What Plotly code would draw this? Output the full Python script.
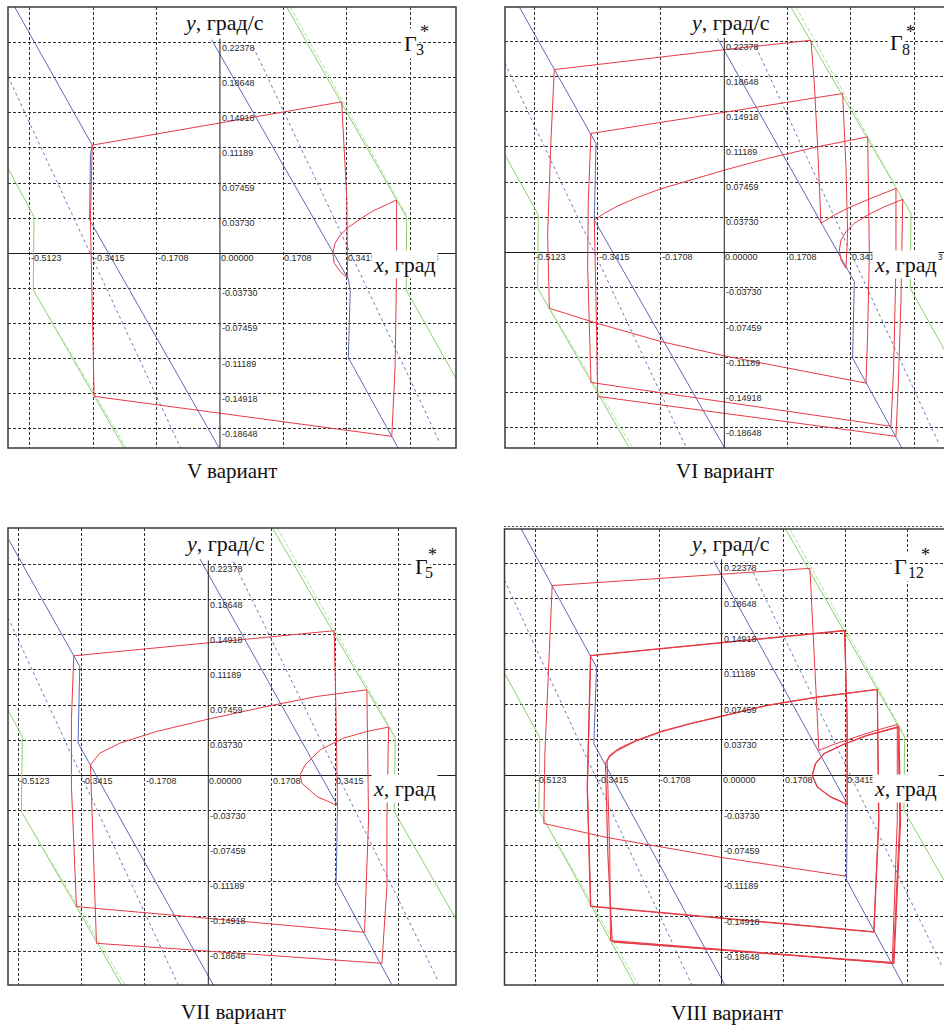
import plotly.graph_objects as go

W, H = 944, 1028

# ---------------------------------------------------------------- grid / ticks
X_GRID = [-0.5123, -0.3415, -0.1708, 0.1708, 0.3415, 0.5123]
X_LABEL_VALS = [-0.5123, -0.3415, -0.1708, 0.0, 0.1708, 0.3415, 0.5123]
X_LABEL_TEXT = ["-0.5123", "-0.3415", "-0.1708", "0.00000", "0.1708", "0.3415", "0.5123"]
Y_GRID = [0.22378, 0.18648, 0.14918, 0.11189, 0.07459, 0.03730,
          -0.03730, -0.07459, -0.11189, -0.14918, -0.18648]
Y_LABEL_TEXT = ["0.22378", "0.18648", "0.14918", "0.11189", "0.07459", "0.03730",
                "-0.03730", "-0.07459", "-0.11189", "-0.14918", "-0.18648"]
AXIS_TOP = 0.228

# ---------------------------------------------------------------- variant V
V_TRAJ_X = [0.344, 0.324, 0.308, 0.304, 0.310, 0.324, 0.346, 0.378, 0.414, 0.450, 0.476,
            0.476, 0.472, 0.463, -0.339, -0.349, -0.344, 0.328, 0.342, 0.344]
V_TRAJ_Y = [-0.0265, -0.0194, -0.0106, 0.0, 0.0106, 0.0194, 0.0276, 0.0364, 0.0453, 0.052, 0.0566,
            -0.014, -0.120, -0.1945, -0.152, 0.0354, 0.1149, 0.1609, 0.0566, -0.0265]
V_SW_L_X = [-0.553, -0.344, -0.349, -0.351, -0.002]
V_SW_L_Y = [0.2617, 0.1149, 0.105, 0.0354, -0.2069]
V_SW_R_X = [-0.0225, 0.346, 0.351, 0.346, 0.480]
V_SW_R_Y = [0.227, -0.0276, -0.040, -0.111, -0.2069]
V_AUX_L_X = [-0.571, -0.106]
V_AUX_L_Y = [0.188, -0.2069]
V_AUX_R_X = [0.0899, 0.593]
V_AUX_R_Y = [0.2192, -0.2016]
V_BND_L_X = [-0.571, -0.503, -0.501, -0.503, -0.258]
V_BND_L_Y = [0.0903, 0.0407, 0.039, -0.039, -0.2069]
V_BND_R_X = [0.180, 0.503, 0.502, 0.636]
V_BND_R_Y = [0.2617, 0.038, -0.039, -0.133]
V_BDASH_UR_X = [0.189, 0.503]
V_BDASH_UR_Y = [0.2617, 0.040]
V_BDASH_LL_X = [-0.503, -0.252]
V_BDASH_LL_Y = [-0.039, -0.2069]

# ---------------------------------------------------------------- variant VI
VI_TRAJ_X = [-0.3506, -0.3236, -0.2877, -0.2337, -0.1708, -0.0899, 0.0, 0.1169, 0.2517, 0.3866,
             0.3884, 0.3911, 0.3866, 0.3821,
             0.0, -0.1708, -0.3506, -0.472,
             -0.4765, -0.4675, -0.4585,
             0.0, 0.2337,
             0.2427, 0.2517, 0.2607,
             0.2967, 0.3416, 0.3956, 0.463,
             0.463, 0.4567, 0.4495,
             0.0, -0.3596,
             -0.3686, -0.3668, -0.3596,
             0.0, 0.3191,
             0.3281, 0.3326, 0.3281,
             0.3147, 0.3102, 0.3147, 0.3281, 0.3506, 0.3866, 0.4315, 0.481,
             0.4765, 0.4693, 0.463,
             0.0, -0.3416,
             -0.3461, -0.3506]
VI_TRAJ_Y = [0.0343, 0.0414, 0.0492, 0.0583, 0.0675, 0.0767, 0.0873, 0.0997, 0.1121, 0.1227,
             0.0555, -0.0011, -0.0859, -0.139,
             -0.110, -0.0948, -0.0746, -0.0594,
             0.0202, 0.1192, 0.1941,
             0.2153, 0.2252,
             0.1793, 0.1121, 0.0308,
             0.0396, 0.0484, 0.0573, 0.0679,
             -0.0152, -0.1213, -0.1849,
             -0.1591, -0.1383,
             -0.0152, 0.0555, 0.1262,
             0.1489, 0.1687,
             0.0909, 0.0202, -0.017,
             -0.0081, 0.0025, 0.0131, 0.0219, 0.0308, 0.0396, 0.0484, 0.0562,
             -0.0506, -0.139, -0.1955,
             -0.1711, -0.1531,
             -0.0506, 0.0343]
VI_SW_L_X = [-0.5529, -0.3596, -0.3461, -0.3506, 0.001]
VI_SW_L_Y = [0.2606, 0.1262, 0.1156, 0.0343, -0.2079]
VI_SW_R_X = [-0.018, 0.3461, 0.3506, 0.3461, 0.479]
VI_SW_R_Y = [0.227, -0.0293, -0.0311, -0.1124, -0.2079]
VI_AUX_L_X = [-0.5915, -0.102]
VI_AUX_L_Y = [0.201, -0.2079]
VI_AUX_R_X = [0.0854, 0.5799]
VI_AUX_R_Y = [0.2182, -0.2044]
VI_BND_L_X = [-0.5915, -0.5016, -0.5034, -0.2562]
VI_BND_L_Y = [0.1034, 0.0396, -0.0382, -0.2079]
VI_BND_R_X = [0.1798, 0.5034, 0.5016, 0.5925]
VI_BND_R_Y = [0.2606, 0.0414, -0.0382, -0.103]
VI_BDASH_UR_X = [0.1933, 0.503]
VI_BDASH_UR_Y = [0.2606, 0.041]
VI_BDASH_LL_X = [-0.5034, -0.247]
VI_BDASH_LL_Y = [-0.0382, -0.2079]

# ---------------------------------------------------------------- variant VII
VII_TRAJ_X = [0.3479, 0.2922, 0.2517, 0.2472, 0.2607, 0.3012, 0.3641, 0.427, 0.4855,
              0.481, 0.481, 0.4675,
              -0.3012,
              -0.3084, -0.3173,
              -0.2922, -0.2382, -0.1393, 0.0, 0.1573, 0.2922, 0.427,
              0.4315, 0.4207,
              -0.3551,
              -0.3686, -0.3686, -0.3623,
              0.3389,
              0.3443, 0.3479]
VII_TRAJ_Y = [-0.0318, -0.0223, -0.0081, 0.0007, 0.0113, 0.0272, 0.0396, 0.0467, 0.0513,
              -0.047, -0.1177, -0.1991,
              -0.1779,
              -0.0824, 0.0113,
              0.0237, 0.0343, 0.0467, 0.0598, 0.0732, 0.0838, 0.0909,
              -0.047, -0.1662,
              -0.139,
              -0.0117, 0.0591, 0.1269,
              0.1535,
              0.0591, -0.0318]
VII_SW_L_X = [-0.5376, -0.3461, -0.3506, 0.0135]
VII_SW_L_Y = [0.25, 0.1156, 0.0343, -0.2221]
VII_SW_R_X = [-0.0225, 0.3479, 0.3443, 0.4945]
VII_SW_R_Y = [0.2295, -0.0318, -0.1124, -0.2221]
VII_AUX_L_X = [-0.5394, -0.0809]
VII_AUX_L_Y = [0.1672, -0.2221]
VII_AUX_R_X = [0.0674, 0.6203]
VII_AUX_R_Y = [0.227, -0.2189]
VII_BND_L_X = [-0.5394, -0.5007, -0.5034, -0.2337]
VII_BND_L_Y = [0.0692, 0.0414, -0.0382, -0.2221]
VII_BND_R_X = [0.1727, 0.5034, 0.5007, 0.667]
VII_BND_R_Y = [0.2624, 0.0396, -0.0382, -0.1522]
VII_BDASH_UR_X = [0.186, 0.5034]
VII_BDASH_UR_Y = [0.2624, 0.041]
VII_BDASH_LL_X = [-0.5034, -0.2247]
VII_BDASH_LL_Y = [-0.0382, -0.2221]

# ---------------------------------------------------------------- variant VIII
# transient from the initial point
VIII_TR_X = [0.3411, 0.0, -0.3145, -0.4888, -0.486, -0.4658, 0.243, 0.254, 0.2678,
             0.309, 0.3549, 0.4191, 0.4833, 0.4833, 0.4695, -0.3008]
VIII_TR_Y = [-0.1064, -0.0867, -0.0657, -0.0509, 0.0228, 0.2002, 0.2184, 0.1282, 0.0263,
             0.0327, 0.0386, 0.0467, 0.0537, -0.0474, -0.1984, -0.1756]
# settled two-turn cycle, two consecutive passes
VIII_CY_X = [-0.3008, -0.3127, -0.3191, -0.31, -0.287, -0.2412, -0.1678, -0.0853, 0.0, 0.1256, 0.2632, 0.4282,
             0.4328, 0.4191,
             -0.3604,
             -0.3696, -0.3604,
             0.3384,
             0.3457, 0.3457,
             0.2999, 0.2632, 0.2494, 0.2586, 0.2815, 0.3365, 0.4007, 0.4878,
             0.4924, 0.4741,
             -0.3054]
VIII_CY_Y = [-0.1756, -0.0825, 0.0123, 0.0193, 0.0263, 0.0351, 0.0457, 0.0544, 0.0622, 0.0738, 0.0825, 0.0906,
             -0.0474, -0.1651,
             -0.138,
             -0.0123, 0.1264,
             0.1528,
             0.0579, -0.0306,
             -0.0228, -0.0123, 0.0, 0.0123, 0.0228, 0.0327, 0.0421, 0.0509,
             -0.0474, -0.1984,
             -0.1745]
VIII_CY2_X = [-0.3054, -0.3075, -0.3146, -0.3055, -0.2825, -0.237, -0.164, -0.083, 0.0, 0.1256, 0.2632, 0.4282,
              0.4318, 0.4185,
              -0.3595,
              -0.3688, -0.3598,
              0.3384,
              0.3449, 0.3452,
              0.2995, 0.2628, 0.2490, 0.2582, 0.2812, 0.3360, 0.4003, 0.4855,
              0.4900, 0.4722,
              -0.2962]
VIII_CY2_Y = [-0.1745, -0.0825, 0.0148, 0.0218, 0.0283, 0.0366, 0.0467, 0.055, 0.0625, 0.0738, 0.0825, 0.0906,
              -0.0474, -0.1655,
              -0.1385,
              -0.0123, 0.1262,
              0.1524,
              0.0579, -0.0306,
              -0.0228, -0.0123, 0.0, 0.0123, 0.0228, 0.0327, 0.0421, 0.0514,
              -0.0474, -0.1975,
              -0.1762]
VIII_SW_L_X = [-0.5511, -0.3604, -0.3439, -0.3512, 0.0092]
VIII_SW_L_Y = [0.2599, 0.1264, 0.1141, 0.0334, -0.2213]
VIII_SW_R_X = [-0.0211, 0.3457, 0.3439, 0.4998]
VIII_SW_R_Y = [0.2258, -0.0299, -0.1106, -0.2213]
VIII_AUX_L_X = [-0.597, -0.0816]
VIII_AUX_L_Y = [0.206, -0.2213]
VIII_AUX_R_X = [0.0798, 0.607]
VIII_AUX_R_Y = [0.2195, -0.2019]
VIII_BND_L_X = [-0.597, -0.4998, -0.5025, -0.2384]
VIII_BND_L_Y = [0.1079, 0.0397, -0.0369, -0.2213]
VIII_BND_R_X = [0.1761, 0.5034, 0.5016, 0.6118]
VIII_BND_R_Y = [0.2599, 0.0404, -0.0369, -0.1107]
VIII_BDASH_UR_X = [0.188, 0.5034]
VIII_BDASH_UR_Y = [0.2599, 0.042]
VIII_BDASH_LL_X = [-0.5025, -0.229]
VIII_BDASH_LL_Y = [-0.0369, -0.2213]

# ---------------------------------------------------------------- styles
RED = "#e83a44"
BLUE = "#4a58b0"
GREEN = "#8ccf6c"
STYLE = {
    "bound": dict(color=GREEN, width=1),
    "bdash": dict(color="#b2e09e", width=1, dash="4px,2px"),
    "aux": dict(color=BLUE, width=0.8, dash="3px,3px"),
    "switch": dict(color=BLUE, width=0.9),
    "traj": dict(color=RED, width=1),
    "traj2": dict(color=RED, width=1.2),
}

PANELS = [
    dict(dom=(8, 456, 7, 448), frame=(8, 456, 7, 448),
         xr=(-0.571, 0.636), yr=(-0.2069, 0.2617),
         caption="V вариант", cap_xy=(232, 471),
         ytitle_xy=(224, 22), xtitle_xy=(404, 264),
         gamma=("3", (410, 44), (415, 49), (424, 32)),
         lines=[
             ("bound", V_BND_L_X, V_BND_L_Y), ("bound", V_BND_R_X, V_BND_R_Y),
             ("bdash", V_BDASH_UR_X, V_BDASH_UR_Y), ("bdash", V_BDASH_LL_X, V_BDASH_LL_Y),
             ("aux", V_AUX_L_X, V_AUX_L_Y), ("aux", V_AUX_R_X, V_AUX_R_Y),
             ("switch", V_SW_L_X, V_SW_L_Y), ("switch", V_SW_R_X, V_SW_R_Y),
             ("traj", V_TRAJ_X, V_TRAJ_Y),
         ]),
    dict(dom=(505, 944, 7, 448), frame=(505, 960, 7, 448),
         xr=(-0.5915, 0.5925), yr=(-0.2079, 0.2606),
         caption="VI вариант", cap_xy=(725, 471),
         ytitle_xy=(730, 22), xtitle_xy=(905, 264),
         gamma=("8", (896, 43), (901, 49), (910, 32)),
         lines=[
             ("bound", VI_BND_L_X, VI_BND_L_Y), ("bound", VI_BND_R_X, VI_BND_R_Y),
             ("bdash", VI_BDASH_UR_X, VI_BDASH_UR_Y), ("bdash", VI_BDASH_LL_X, VI_BDASH_LL_Y),
             ("aux", VI_AUX_L_X, VI_AUX_L_Y), ("aux", VI_AUX_R_X, VI_AUX_R_Y),
             ("switch", VI_SW_L_X, VI_SW_L_Y), ("switch", VI_SW_R_X, VI_SW_R_Y),
             ("traj", VI_TRAJ_X, VI_TRAJ_Y),
         ]),
    dict(dom=(8, 456, 528, 985), frame=(8, 456, 528, 985),
         xr=(-0.5394, 0.667), yr=(-0.2221, 0.2624),
         caption="VII вариант", cap_xy=(233, 1012),
         ytitle_xy=(225, 543), xtitle_xy=(404, 788),
         gamma=("5", (421, 566), (424, 572), (432, 555)),
         lines=[
             ("bound", VII_BND_L_X, VII_BND_L_Y), ("bound", VII_BND_R_X, VII_BND_R_Y),
             ("bdash", VII_BDASH_UR_X, VII_BDASH_UR_Y), ("bdash", VII_BDASH_LL_X, VII_BDASH_LL_Y),
             ("aux", VII_AUX_L_X, VII_AUX_L_Y), ("aux", VII_AUX_R_X, VII_AUX_R_Y),
             ("switch", VII_SW_L_X, VII_SW_L_Y), ("switch", VII_SW_R_X, VII_SW_R_Y),
             ("traj", VII_TRAJ_X, VII_TRAJ_Y),
         ]),
    dict(dom=(504.5, 944, 529, 985), frame=(504.5, 960, 529, 985),
         xr=(-0.597, 0.6118), yr=(-0.2213, 0.2599),
         caption="VIII вариант", cap_xy=(727, 1013),
         ytitle_xy=(730, 543), xtitle_xy=(905, 788),
         gamma=("12", (900, 566), (907, 572), (925, 555)),
         lines=[
             ("bound", VIII_BND_L_X, VIII_BND_L_Y), ("bound", VIII_BND_R_X, VIII_BND_R_Y),
             ("bdash", VIII_BDASH_UR_X, VIII_BDASH_UR_Y), ("bdash", VIII_BDASH_LL_X, VIII_BDASH_LL_Y),
             ("aux", VIII_AUX_L_X, VIII_AUX_L_Y), ("aux", VIII_AUX_R_X, VIII_AUX_R_Y),
             ("switch", VIII_SW_L_X, VIII_SW_L_Y), ("switch", VIII_SW_R_X, VIII_SW_R_Y),
             ("traj", VIII_TR_X, VIII_TR_Y),
             ("traj2", VIII_CY_X, VIII_CY_Y),
             ("traj", VIII_CY2_X, VIII_CY2_Y),
         ]),
]

# serif face for titles and captions; DejaVu Serif covers Cyrillic as a fallback
SERIF = "Liberation Serif, DejaVu Serif, serif"
TICK_FONT = dict(family="Liberation Sans Narrow, Liberation Sans", size=9, color="#2a2a2a")


def px(xp):
    return xp / W


def py(yp):
    return 1 - yp / H


fig = go.Figure()
layout = dict(width=W, height=H, margin=dict(l=0, r=0, t=0, b=0),
              paper_bgcolor="white", plot_bgcolor="white", showlegend=False,
              font=dict(family=SERIF))
annotations = []
shapes = []

for i, p in enumerate(PANELS):
    n = i + 1
    sfx = "" if n == 1 else str(n)
    xa, ya = "x" + sfx, "y" + sfx
    d0, d1, e0, e1 = p["dom"]
    layout["xaxis" + sfx] = dict(
        domain=[px(d0), min(px(d1), 1.0)], range=list(p["xr"]), anchor=ya,
        tickmode="array", tickvals=X_GRID, showticklabels=False, ticks="",
        showgrid=True, gridcolor="#303030", gridwidth=1, griddash="3px,2px",
        zeroline=False, showline=False, fixedrange=True)
    layout["yaxis" + sfx] = dict(
        domain=[py(e1), py(e0)], range=list(p["yr"]), anchor=xa,
        tickmode="array", tickvals=Y_GRID, showticklabels=False, ticks="",
        showgrid=True, gridcolor="#303030", gridwidth=1, griddash="3px,2px",
        zeroline=True, zerolinecolor="#1e1e1e", zerolinewidth=1,
        showline=False, fixedrange=True)

    for kind, xs, ys in p["lines"]:
        fig.add_trace(go.Scatter(x=xs, y=ys, mode="lines", line=STYLE[kind],
                                 xaxis=xa, yaxis=ya, hoverinfo="skip"))
    # vertical y-axis line
    fig.add_trace(go.Scatter(x=[0, 0], y=[AXIS_TOP, p["yr"][0]], mode="lines",
                             line=dict(color="#1e1e1e", width=1),
                             xaxis=xa, yaxis=ya, hoverinfo="skip"))

    # tick labels next to the axes
    for v, t in zip(X_LABEL_VALS, X_LABEL_TEXT):
        annotations.append(dict(x=v, y=0, xref=xa, yref=ya, text=t, showarrow=False,
                                xanchor="left", yanchor="top", xshift=0, yshift=1,
                                font=TICK_FONT, borderpad=0))
    for v, t in zip(Y_GRID, Y_LABEL_TEXT):
        annotations.append(dict(x=0, y=v, xref=xa, yref=ya, text=t, showarrow=False,
                                xanchor="left", yanchor="top", xshift=1, yshift=1,
                                font=TICK_FONT, borderpad=0))

    # axis titles
    tx, ty = p["ytitle_xy"]
    annotations.append(dict(x=px(tx), y=py(ty), xref="paper", yref="paper",
                            text="<i>y</i>, град/с", showarrow=False, bgcolor="white",
                            xanchor="center", yanchor="middle", borderpad=0,
                            font=dict(family=SERIF, size=22, color="#111")))
    tx, ty = p["xtitle_xy"]
    annotations.append(dict(x=px(tx), y=py(ty), xref="paper", yref="paper",
                            text="<i>x</i>, град", showarrow=False, bgcolor="white",
                            xanchor="center", yanchor="middle", borderpad=1,
                            font=dict(family=SERIF, size=22, color="#111")))

    # Γ*_k label
    sub, g_xy, s_xy, a_xy = p["gamma"]
    annotations.append(dict(x=px(g_xy[0]), y=py(g_xy[1]), xref="paper", yref="paper",
                            text="Γ", showarrow=False, bgcolor="white", borderpad=2,
                            xanchor="center", yanchor="middle",
                            font=dict(family=SERIF, size=22, color="#111")))
    annotations.append(dict(x=px(s_xy[0]), y=py(s_xy[1]), xref="paper", yref="paper",
                            text=sub, showarrow=False, xanchor="left", yanchor="middle",
                            font=dict(family=SERIF, size=16, color="#111"), borderpad=0))
    annotations.append(dict(x=px(a_xy[0]), y=py(a_xy[1]), xref="paper", yref="paper",
                            text="*", showarrow=False, xanchor="center", yanchor="middle",
                            font=dict(family=SERIF, size=18, color="#111"), borderpad=0))

    # caption under the panel
    cx, cy = p["cap_xy"]
    annotations.append(dict(x=px(cx), y=py(cy), xref="paper", yref="paper",
                            text=p["caption"], showarrow=False,
                            xanchor="center", yanchor="middle",
                            font=dict(family=SERIF, size=21, color="#111")))

    # frame
    f0, f1, g0, g1 = p["frame"]
    shapes.append(dict(type="rect", xref="paper", yref="paper",
                       x0=px(f0), x1=px(f1), y0=py(g1), y1=py(g0),
                       line=dict(color="#3a3a3a", width=1.5), layer="above"))

# dotted rule just above the last panel
shapes.append(dict(type="line", xref="paper", yref="paper",
                   x0=px(504), x1=px(944), y0=py(526.5), y1=py(526.5),
                   line=dict(color="#555", width=1, dash="2px,2px")))

layout["annotations"] = annotations
layout["shapes"] = shapes
fig.update_layout(**layout)
fig.write_html("out.html")
